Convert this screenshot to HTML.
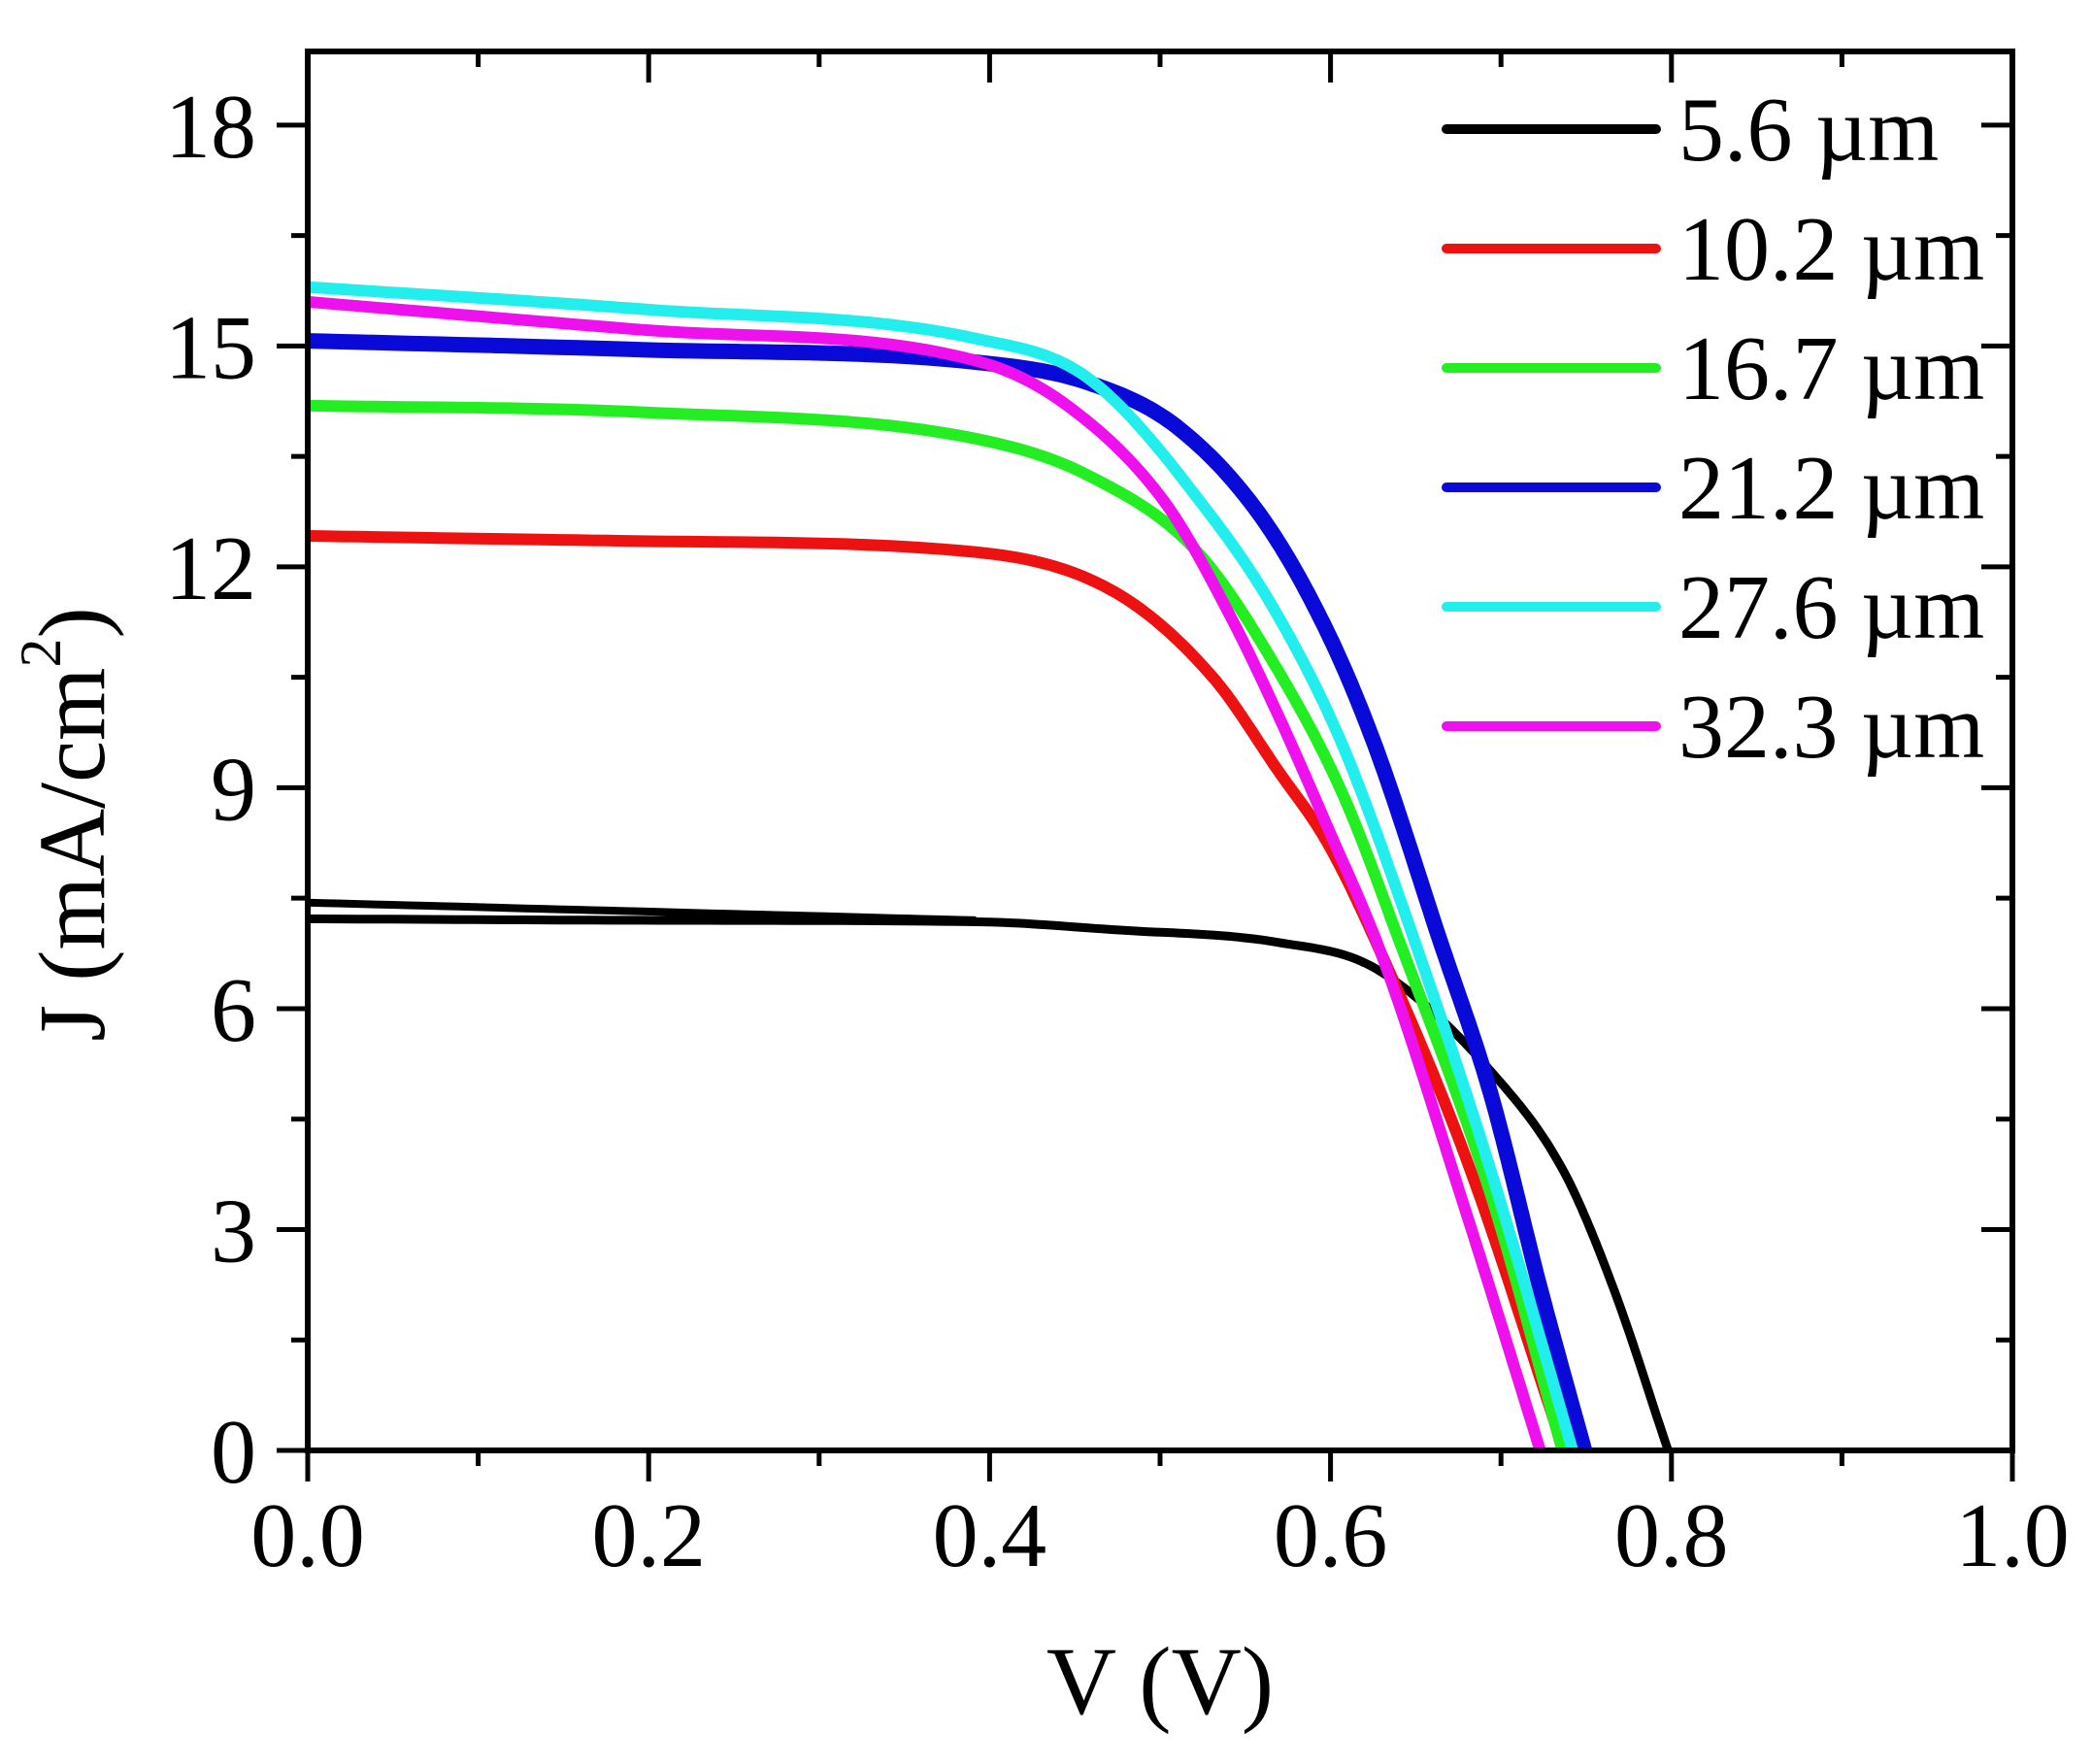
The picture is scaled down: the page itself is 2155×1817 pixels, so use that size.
<!DOCTYPE html>
<html><head><meta charset="utf-8"><style>
html,body{margin:0;padding:0;background:#fff;}
svg{display:block;}
text{font-family:"Liberation Serif","Times New Roman",serif;fill:#000;}
</style></head><body>
<svg id="chart" width="2155" height="1817" viewBox="0 0 2155 1817" xmlns="http://www.w3.org/2000/svg" font-family="Liberation Serif, serif">
<g id="curves"></g>
<g id="axes"></g>
<g id="legend"></g>
<text x="1195" y="1765" font-size="100" text-anchor="middle">V (V)</text>
<text transform="translate(107,849) rotate(-90)" font-size="97" text-anchor="middle">J (mA/cm<tspan font-size="60" dy="-45">2</tspan><tspan dy="45">)</tspan></text>
</svg>
<script>
const seriesNames = ["5.6 µm","10.2 µm","16.7 µm","21.2 µm","27.6 µm","32.3 µm"];
const seriesColors = ["#000000","#ee1111","#22ee22","#0a0ad8","#22eeee","#ee11ee"];
const seriesWidths = [9,12,12,16,12,12];
const blackV = [0,0.196,0.392,0.474,0.569,0.626,0.694,0.737,0.766,0.798];
const blackJ = [7.22,7.2,7.18,7.07,6.9,6.55,5.15,3.78,2.2,0];
const blackV2 = [0,0.196,0.392];
const blackJ2 = [7.44,7.32,7.2];
const redV = [0,0.196,0.392,0.474,0.531,0.569,0.598,0.626,0.679,0.737];
const redJ = [12.42,12.35,12.2,11.65,10.5,9.24,8.26,6.94,4.0,0];
const greenV = [0,0.196,0.392,0.458,0.522,0.569,0.607,0.640,0.694,0.736];
const greenJ = [14.19,14.1,13.74,13.24,12.2,10.6,8.92,6.94,3.47,0];
const blueV = [0,0.196,0.392,0.458,0.51,0.560,0.598,0.626,0.664,0.694,0.723,0.749];
const blueJ = [15.07,14.95,14.78,14.5,13.9,12.66,11.12,9.58,6.94,4.84,2.2,0];
const cyanV = [0,0.196,0.392,0.458,0.531,0.569,0.607,0.649,0.694,0.742];
const cyanJ = [15.8,15.5,15.1,14.56,12.66,11.34,9.58,6.94,3.8,0];
const magentaV = [0,0.196,0.392,0.445,0.503,0.541,0.569,0.598,0.630,0.679,0.723];
const magentaJ = [15.6,15.22,14.8,14.2,12.87,11.34,10.0,8.48,6.73,3.27,0];
const xTicks = ["0.0","0.2","0.4","0.6","0.8","1.0"];
const yTicks = ["0","3","6","9","12","15","18"];

const X0=317, X1=2073, Y0=1494, Y1=53, VMAX=1.0, JMAX=19.0;
function sx(v){return X0+(X1-X0)*v/VMAX;}
function sy(j){return Y0-(Y0-Y1)*j/JMAX;}
const NS="http://www.w3.org/2000/svg";
function mk(tag,attrs,parent){const e=document.createElementNS(NS,tag);for(const k in attrs)e.setAttribute(k,attrs[k]);parent.appendChild(e);return e;}
// monotone cubic (Fritsch–Carlson) in data space, sampled densely
function pathFor(V,J){
  const n=V.length, d=[], m=new Array(n);
  for(let i=0;i<n-1;i++) d.push((J[i+1]-J[i])/(V[i+1]-V[i]));
  m[0]=d[0]; m[n-1]=d[n-2];
  for(let i=1;i<n-1;i++) m[i]=(d[i-1]*d[i]<=0)?0:(d[i-1]+d[i])/2;
  for(let i=0;i<n-1;i++){
    if(d[i]===0){m[i]=0;m[i+1]=0;continue;}
    const a=m[i]/d[i], b=m[i+1]/d[i], s=a*a+b*b;
    if(s>9){const t=3/Math.sqrt(s);m[i]=t*a*d[i];m[i+1]=t*b*d[i];}
  }
  let out="M"+sx(V[0]).toFixed(1)+","+sy(J[0]).toFixed(1);
  for(let i=0;i<n-1;i++){
    const h=V[i+1]-V[i], steps=20;
    for(let s=1;s<=steps;s++){
      const t=s/steps, t2=t*t, t3=t2*t;
      const y=(2*t3-3*t2+1)*J[i]+(t3-2*t2+t)*h*m[i]+(-2*t3+3*t2)*J[i+1]+(t3-t2)*h*m[i+1];
      out+=" L"+sx(V[i]+h*t).toFixed(1)+","+sy(y).toFixed(1);
    }
  }
  return out;
}
const curves=document.getElementById('curves');
const data=[[blackV,blackJ],[redV,redJ],[greenV,greenJ],[blueV,blueJ],[cyanV,cyanJ],[magentaV,magentaJ]];
{
  const el=mk('path',{d:pathFor(blackV2,blackJ2),fill:'none',stroke:'#000',"stroke-width":8},curves);
  
  
}
[0,1,2,3,4,5].forEach(i=>{
  const el=mk('path',{d:pathFor(data[i][0],data[i][1]),fill:'none',stroke:seriesColors[i],"stroke-width":seriesWidths[i],"stroke-linejoin":"round"},curves);
  
  
});
const axes=document.getElementById('axes');
const frame=mk('rect',{x:X0,y:Y1,width:X1-X0,height:Y0-Y1,fill:'none',stroke:'#000',"stroke-width":6},axes);


for(let k=0;k<=10;k++){
  const x=sx(k*0.1), L=k%2===0?32:16;
  mk('line',{x1:x,y1:Y0,x2:x,y2:Y0+L,stroke:'#000',"stroke-width":5},axes);
  mk('line',{x1:x,y1:Y1,x2:x,y2:Y1+L,stroke:'#000',"stroke-width":5},axes);
}
xTicks.forEach(t=>{
  const el=mk('text',{x:sx(parseFloat(t)),y:1613,"font-size":94,"text-anchor":"middle"},axes);
  el.textContent=t;
  
  
});
for(let k=0;k<=12;k++){
  const y=sy(k*1.5), L=k%2===0?32:17;
  mk('line',{x1:X0,y1:y,x2:X0-L,y2:y,stroke:'#000',"stroke-width":5},axes);
  mk('line',{x1:X1,y1:y,x2:X1-L,y2:y,stroke:'#000',"stroke-width":5},axes);
}
yTicks.forEach(t=>{
  const el=mk('text',{x:264,y:sy(parseFloat(t))+33,"font-size":94,"text-anchor":"end"},axes);
  el.textContent=t;
  
  
});
const legend=document.getElementById('legend');
seriesNames.forEach((n,i)=>{
  const y=133+i*123;
  const g=mk('g',{},legend);
  
  
  mk('line',{x1:1490,y1:y,x2:1706,y2:y,stroke:seriesColors[i],"stroke-width":10,"stroke-linecap":"round"},g);
  const t=mk('text',{x:1729,y:y+32,"font-size":94},g);
  t.textContent=n;
});
</script>
</body></html>
